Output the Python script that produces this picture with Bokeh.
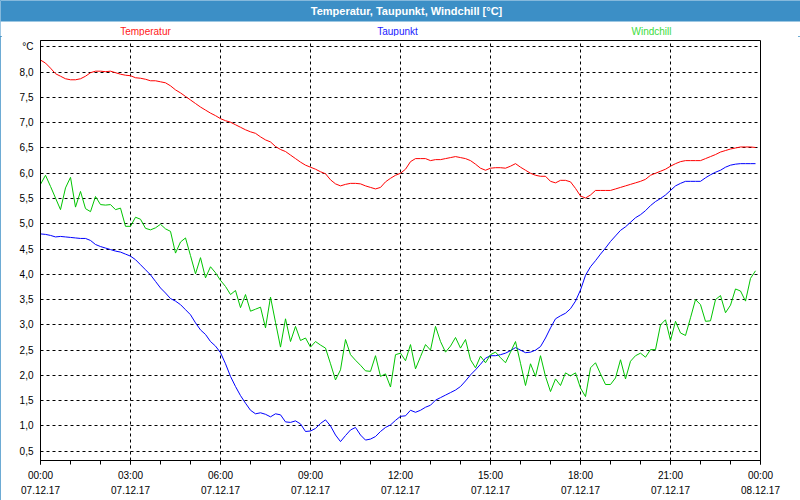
from bokeh.plotting import figure
from bokeh.layouts import column
from bokeh.models import Range1d, FixedTicker, BoxAnnotation, ColumnDataSource
from bokeh.core.properties import value
from bokeh.embed import file_html
from bokeh.resources import INLINE

# ---------------- data ----------------
title_text = "Temperatur, Taupunkt, Windchill [°C]"
series_names = ["Temperatur", "Taupunkt", "Windchill"]

tick_hours = [0, 3, 6, 9, 12, 15, 18, 21, 24]
tick_labels = ["00:00\n07.12.17", "03:00\n07.12.17", "06:00\n07.12.17", "09:00\n07.12.17",
               "12:00\n07.12.17", "15:00\n07.12.17", "18:00\n07.12.17", "21:00\n07.12.17",
               "00:00\n08.12.17"]
minor_hours = list(range(0, 25))

y_ticks = [0.5, 1.0, 1.5, 2.0, 2.5, 3.0, 3.5, 4.0, 4.5, 5.0, 5.5, 6.0, 6.5, 7.0, 7.5, 8.0, 8.5]
y_tick_labels = ["0,5", "1,0", "1,5", "2,0", "2,5", "3,0", "3,5", "4,0", "4,5", "5,0",
                 "5,5", "6,0", "6,5", "7,0", "7,5", "8,0", "°C"]

step_minutes = 10

temperatur = [
    8.24, 8.18, 8.08, 7.97, 7.92, 7.87, 7.85, 7.85, 7.87, 7.92, 7.99, 8.02,
    8.02, 8.01, 8.02, 7.99, 7.96, 7.94, 7.93, 7.89, 7.88, 7.86, 7.83, 7.83,
    7.81, 7.79, 7.73, 7.65, 7.59, 7.52, 7.45, 7.38, 7.31, 7.25, 7.19, 7.14,
    7.08, 7.04, 7.01, 6.96, 6.91, 6.86, 6.82, 6.79, 6.72, 6.66, 6.62, 6.53,
    6.47, 6.43, 6.36, 6.29, 6.22, 6.16, 6.12, 6.08, 6.03, 5.99, 5.87, 5.79,
    5.75, 5.78, 5.80, 5.80, 5.79, 5.75, 5.72, 5.69, 5.72, 5.83, 5.90, 5.96,
    6.00, 6.08, 6.23, 6.29, 6.29, 6.29, 6.25, 6.27, 6.27, 6.29, 6.31, 6.33,
    6.31, 6.29, 6.25, 6.18, 6.10, 6.06, 6.10, 6.11, 6.11, 6.10, 6.14, 6.19,
    6.12, 6.06, 6.00, 5.96, 5.94, 5.94, 5.84, 5.81, 5.86, 5.86, 5.83, 5.70,
    5.55, 5.51, 5.57, 5.66, 5.66, 5.66, 5.66, 5.69, 5.72, 5.75, 5.78, 5.81,
    5.84, 5.88, 5.96, 6.00, 6.04, 6.08, 6.14, 6.19, 6.23, 6.25, 6.25, 6.25,
    6.25, 6.29, 6.33, 6.37, 6.42, 6.45, 6.48, 6.50, 6.52, 6.52, 6.52, 6.51,
]

taupunkt = [
    4.80, 4.79, 4.77, 4.74, 4.75, 4.74, 4.73, 4.72, 4.71, 4.71, 4.67, 4.59,
    4.55, 4.52, 4.49, 4.46, 4.44, 4.40, 4.36, 4.29, 4.19, 4.09, 3.99, 3.86,
    3.73, 3.63, 3.52, 3.47, 3.40, 3.30, 3.20, 3.04, 2.90, 2.81, 2.67, 2.58,
    2.45, 2.23, 1.98, 1.78, 1.60, 1.45, 1.31, 1.24, 1.26, 1.23, 1.18, 1.24,
    1.22, 1.08, 1.07, 1.10, 1.04, 0.89, 0.90, 0.95, 1.05, 1.12, 1.00, 0.82,
    0.69, 0.81, 0.92, 0.97, 0.82, 0.72, 0.74, 0.79, 0.89, 0.97, 1.02, 1.11,
    1.19, 1.20, 1.31, 1.27, 1.31, 1.37, 1.41, 1.51, 1.56, 1.61, 1.66, 1.71,
    1.78, 1.89, 2.01, 2.11, 2.22, 2.34, 2.39, 2.39, 2.41, 2.44, 2.49, 2.55,
    2.50, 2.45, 2.46, 2.50, 2.57, 2.74, 2.94, 3.12, 3.18, 3.23, 3.32, 3.47,
    3.69, 3.98, 4.15, 4.27, 4.40, 4.52, 4.65, 4.76, 4.87, 4.94, 5.03, 5.12,
    5.18, 5.26, 5.36, 5.44, 5.50, 5.57, 5.66, 5.75, 5.80, 5.84, 5.84, 5.84,
    5.84, 5.91, 5.97, 6.02, 6.06, 6.12, 6.16, 6.18, 6.19, 6.19, 6.19, 6.19,
]

windchill = [
    5.78, 5.96, 5.74, 5.51, 5.28, 5.71, 5.92, 5.33, 5.64, 5.30, 5.24, 5.54,
    5.38, 5.37, 5.38, 5.28, 5.31, 4.95, 4.95, 5.13, 5.09, 4.91, 4.88, 4.92,
    4.99, 4.90, 4.85, 4.42, 4.64, 4.72, 4.37, 4.01, 4.33, 3.93, 4.15, 4.03,
    3.88, 3.76, 3.60, 3.68, 3.34, 3.60, 3.27, 3.31, 3.35, 2.94, 3.55, 3.05,
    2.56, 3.12, 2.67, 2.97, 2.69, 2.74, 2.56, 2.67, 2.60, 2.54, 2.23, 1.91,
    2.11, 2.71, 2.41, 2.30, 2.20, 2.09, 2.08, 2.39, 1.98, 2.03, 1.77, 2.41,
    2.44, 2.29, 2.61, 2.13, 2.37, 2.61, 2.50, 2.97, 2.67, 2.46, 2.58, 2.75,
    2.54, 2.71, 2.31, 2.15, 2.38, 2.25, 2.41, 2.46, 2.35, 2.25, 2.46, 2.67,
    2.24, 1.80, 2.23, 1.98, 2.39, 1.98, 1.68, 1.93, 1.80, 2.05, 1.99, 2.05,
    1.75, 1.58, 2.15, 2.25, 2.03, 1.82, 1.82, 1.95, 2.31, 1.93, 2.28, 2.39,
    2.44, 2.36, 2.51, 2.51, 3.00, 3.10, 2.69, 3.07, 2.84, 2.79, 3.14, 3.50,
    3.40, 3.07, 3.08, 3.50, 3.58, 3.24, 3.39, 3.71, 3.67, 3.47, 3.92, 4.07,
]

hours = [i * step_minutes / 60.0 for i in range(len(temperatur))]

# ---------------- styling ----------------
FONT = "Liberation Sans"
BAR_BLUE = "#3c8fc6"
line_colors = ["#ff0000", "#0000ff", "#00c400"]
label_colors = ["#ff2020", "#2020ff", "#3cdc3c"]

W = 800
HEADER_H = 36
MAIN_H = 500 - HEADER_H
Y0, Y1 = 0.316, 8.627

# ---------------- header (title bar + series labels) ----------------
hdr = figure(width=W, height=HEADER_H, x_range=Range1d(0, W), y_range=Range1d(HEADER_H, 0),
             x_axis_type=None, y_axis_type=None, output_backend="svg", toolbar_location=None,
             min_border=0, outline_line_color=None,
             background_fill_color="white", border_fill_color="white")
hdr.frame_align = False
hdr.grid.visible = False
hdr.add_layout(BoxAnnotation(left=0, right=W, top=0, bottom=21, level="underlay",
                             fill_color=BAR_BLUE, fill_alpha=1.0, line_color=None))
hdr.text(x=[406], y=[10.5], text=[title_text], text_align="center", text_baseline="middle",
         text_color="white", text_font=value(FONT), text_font_style="bold",
         text_font_size="11px")
legend_src = ColumnDataSource(dict(x=[145, 397, 651], y=[31, 31, 31],
                                   text=series_names, color=label_colors))
hdr.text(x="x", y="y", text="text", text_color="color", source=legend_src,
         text_align="center", text_baseline="middle", text_font=value(FONT),
         text_font_size="10px")

# ---------------- main chart ----------------
p = figure(width=W, height=MAIN_H, x_range=Range1d(0, 24), y_range=Range1d(Y0, Y1),
           output_backend="svg", toolbar_location=None,
           min_border_left=40, min_border_right=40, min_border_top=4, min_border_bottom=40,
           background_fill_color="white", border_fill_color="white")
p.frame_align = False

p.outline_line_color = "black"
p.outline_line_width = 1
p.outline_line_alpha = 1.0

p.xgrid.ticker = FixedTicker(ticks=tick_hours)
p.ygrid.ticker = FixedTicker(ticks=y_ticks)
for g in (p.xgrid, p.ygrid):
    g.grid_line_color = "black"
    g.grid_line_dash = "3 3"
    g.grid_line_width = 1
    g.grid_line_alpha = 1.0

xa = p.xaxis[0]
xa.ticker = FixedTicker(ticks=tick_hours, minor_ticks=minor_hours)
xa.major_label_overrides = dict(zip(tick_hours, tick_labels))
xa.axis_line_color = "black"
xa.major_tick_line_color = "black"
xa.minor_tick_line_color = "black"
xa.major_tick_in = 0
xa.major_tick_out = 4
xa.minor_tick_in = 0
xa.minor_tick_out = 4
xa.major_label_standoff = 5
xa.major_label_text_font = FONT
xa.major_label_text_font_size = "10px"
xa.major_label_text_color = "black"
xa.major_label_text_line_height = 1.45

ya = p.yaxis[0]
ya.ticker = FixedTicker(ticks=y_ticks)
ya.major_label_overrides = dict(zip(y_ticks, y_tick_labels))
ya.axis_line_color = "black"
ya.major_tick_in = 0
ya.major_tick_out = 0
ya.minor_tick_line_color = None
ya.major_label_standoff = 7
ya.major_label_text_font = FONT
ya.major_label_text_font_size = "10px"
ya.major_label_text_color = "black"

src = ColumnDataSource(dict(hours=hours, temperatur=temperatur, taupunkt=taupunkt,
                            windchill=windchill))
for col, c in zip(["temperatur", "taupunkt", "windchill"], line_colors):
    p.line("hours", col, source=src, line_color=c, line_width=1)

layout = column(hdr, p, spacing=0,
                styles={"outline": "2px solid " + BAR_BLUE, "outline-offset": "-2px"})
open("out.html", "w").write(file_html(layout, INLINE))
